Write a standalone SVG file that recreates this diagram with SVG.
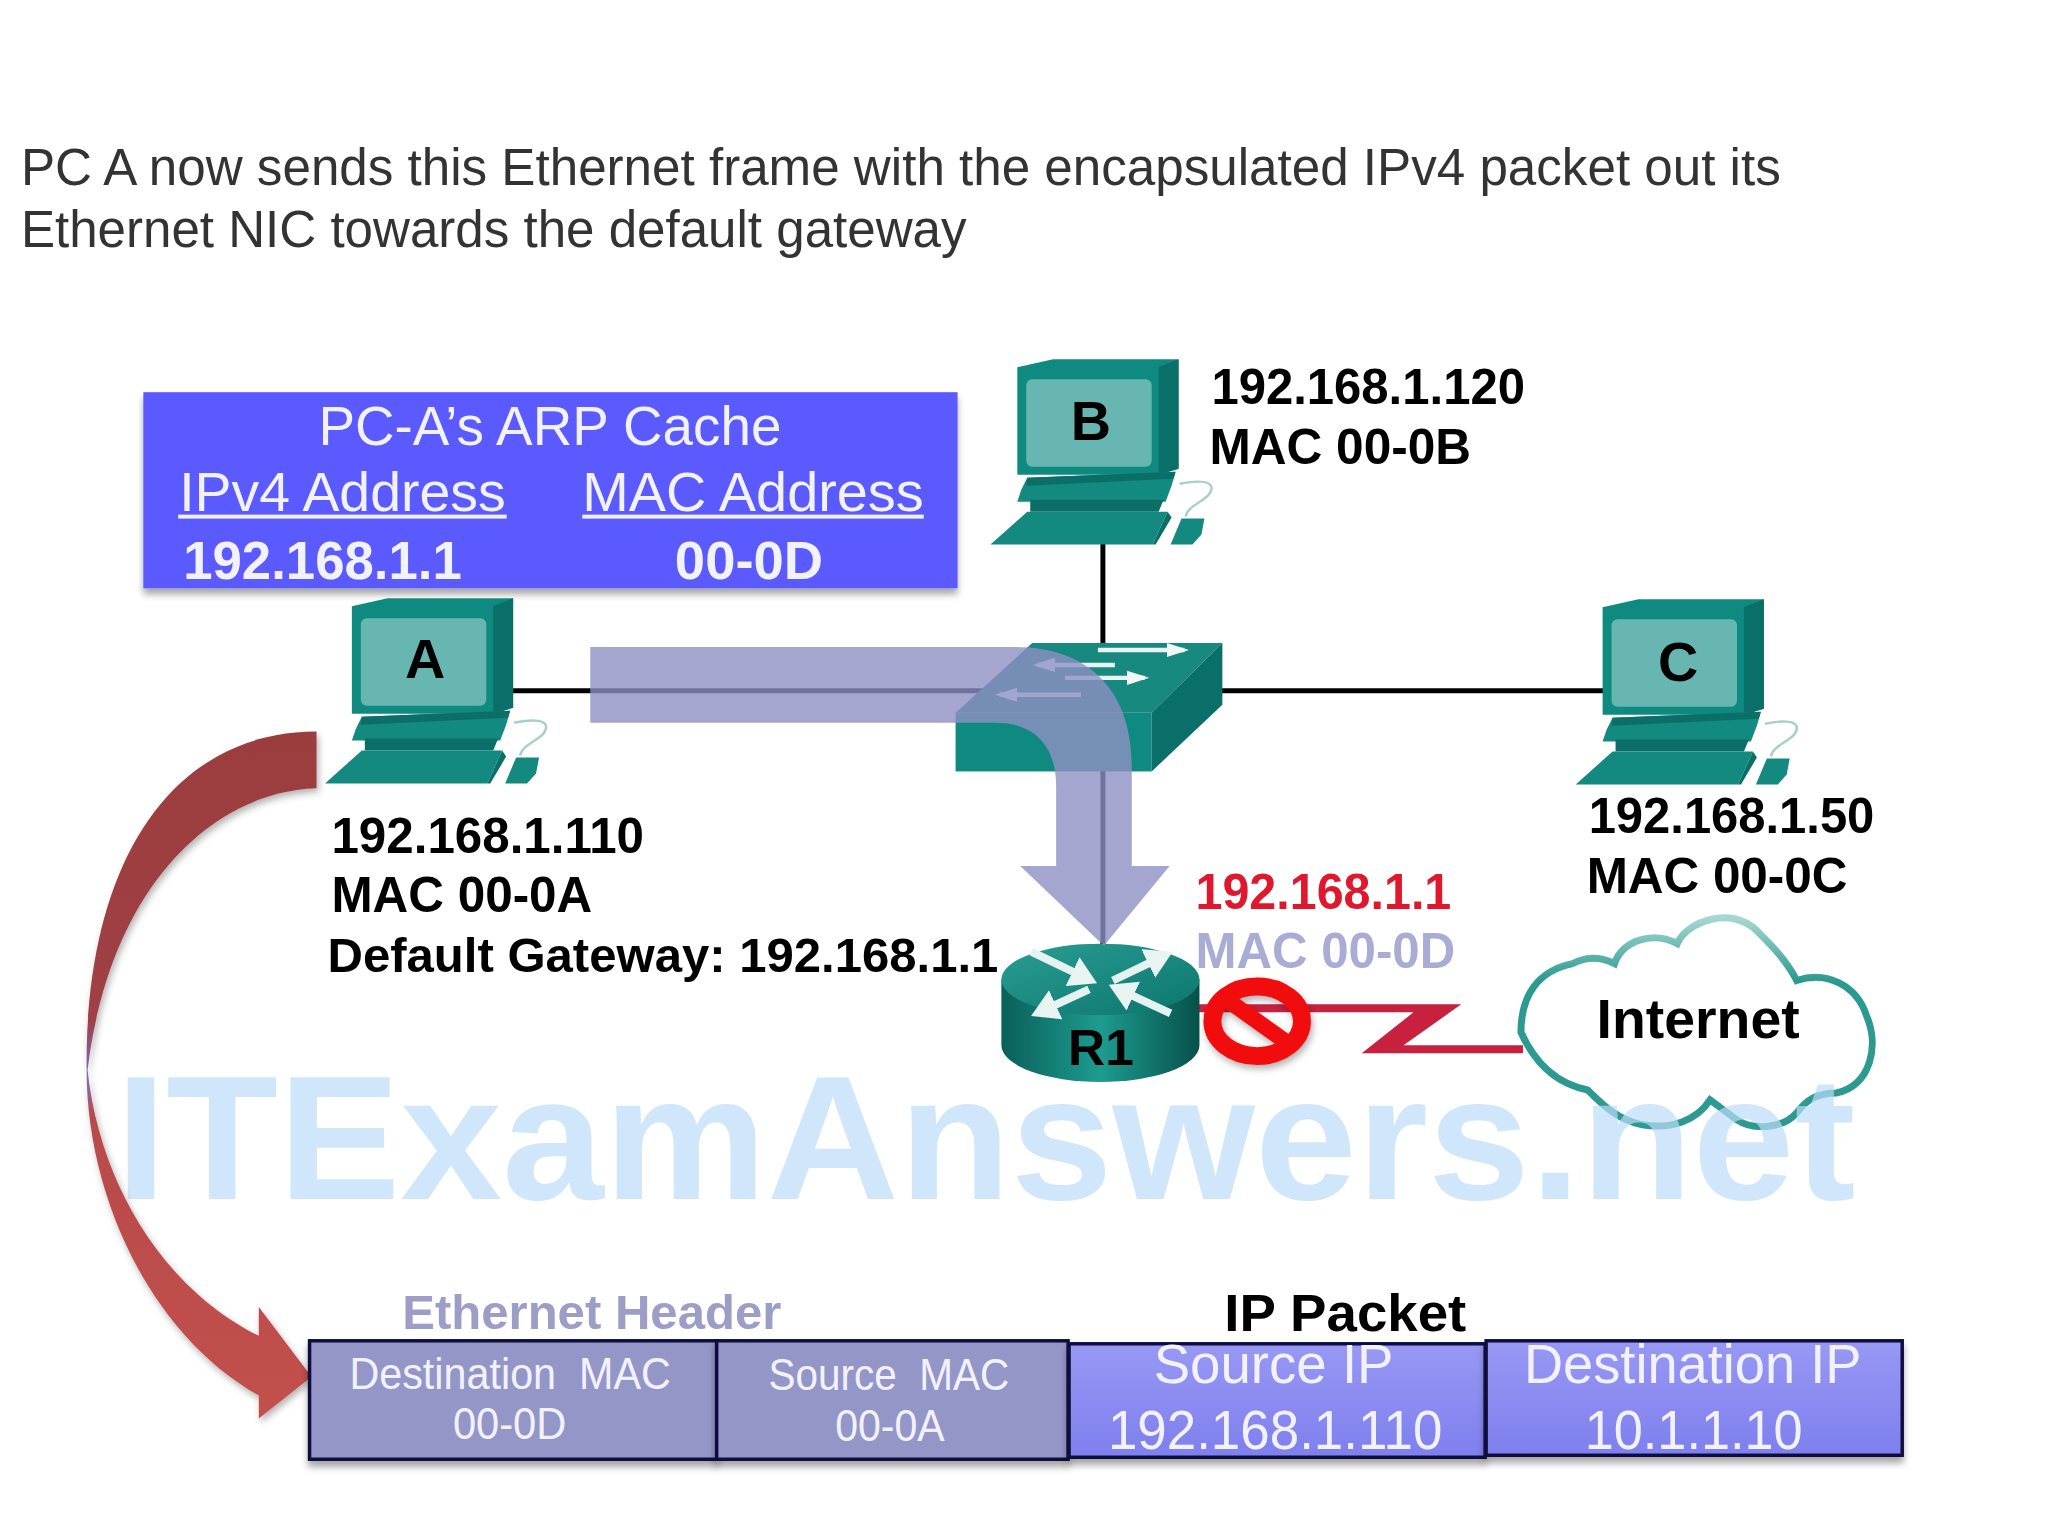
<svg xmlns="http://www.w3.org/2000/svg" xmlns:xlink="http://www.w3.org/1999/xlink" width="2048" height="1536" viewBox="0 0 2048 1536">
<style>
text{font-family:"Liberation Sans",Arial,sans-serif}
.title{font-size:52px;fill:#333}
.w{fill:#f2f2ff}
.b{font-weight:bold;fill:#000}
.lbl{font-size:50px}
.frm{stroke:#11113f;stroke-width:3.5}
.link{stroke:#000;stroke-width:5;fill:none}
.sw{stroke:#e8f4f3;stroke-width:4.500;fill:none;marker-end:url(#wa)}
.rt{stroke:#e4f2f0;stroke-width:8;fill:none;marker-end:url(#wa2)}
</style>
<defs>
<filter id="sh" x="-5%" y="-10%" width="110%" height="125%"><feDropShadow dx="0" dy="6" stdDeviation="4" flood-color="#000" flood-opacity=".35"/></filter>
<filter id="sh2" x="-30%" y="-30%" width="160%" height="160%"><feDropShadow dx="2" dy="4" stdDeviation="4" flood-color="#000" flood-opacity=".3"/></filter>
<marker id="wa" markerWidth="6" markerHeight="4" refX="4" refY="2" orient="auto"><path d="M0,.4L5,2L0,3.6Z" fill="#f0f8f7"/></marker>
<marker id="wa2" markerWidth="4" markerHeight="4" refX="2" refY="2" orient="auto"><path d="M0,0L3.4,2L0,4Z" fill="#e8f4f2"/></marker>
<linearGradient id="rb" x1="0" x2="1" y1="0" y2="0"><stop offset="0" stop-color="#0a5f59"/><stop offset=".5" stop-color="#1d9c90"/><stop offset="1" stop-color="#07504b"/></linearGradient>
<linearGradient id="rt" x1="0" x2="1" y1="0" y2="1"><stop offset="0" stop-color="#2a9e93"/><stop offset="1" stop-color="#0c756d"/></linearGradient>
<linearGradient id="ra" x1="0" x2="0" y1="0" y2="1"><stop offset="0" stop-color="#9b3e3e"/><stop offset=".42" stop-color="#a03f46"/><stop offset=".5" stop-color="#7d6cc0"/><stop offset=".56" stop-color="#b84a4c"/><stop offset="1" stop-color="#c2504c"/></linearGradient>
<linearGradient id="ip" x1="0" x2="0" y1="0" y2="1"><stop offset="0" stop-color="#9898f4"/><stop offset="1" stop-color="#7f7fee"/></linearGradient>
<linearGradient id="cl" x1="0" x2="0" y1="0" y2="1"><stop offset="0" stop-color="#a6d8d2"/><stop offset=".3" stop-color="#2d9a92"/><stop offset="1" stop-color="#2d9a92"/></linearGradient>
<g id="pc">
<polygon points="351,605 387,597 513,597 513,707 493,713 351,713" fill="#0f8a80"/>
<polygon points="493,605 513,597 513,707 493,713" fill="#0a6f68"/>
<rect x="360" y="617" width="126" height="88" rx="6" fill="#68b6b1"/>
<polygon points="361,716 510,710 506,724 500,740 351,740 355,728" fill="#128a80"/>
<polygon points="361,716 510,710 508,717 360,724" fill="#0b6f68"/>
<polygon points="364,738 498,738 493,750 364,750" fill="#0b6f68"/>
<polygon points="361,750 502,750 487,783 324,783" fill="#14897f"/>
<polygon points="502,750 506,756 490,783 487,783" fill="#0b6f68"/>
<path d="M520,755C522,742 548,738 546,725C544,718 530,719 514,722" fill="none" stroke="#a9cfca" stroke-width="2.5"/>
<polygon points="516,757 539,757 536,773 527,783 505,783" fill="#14897f"/>
</g>
</defs>
<rect width="2048" height="1536" fill="#fff"/>
<g id="diagram" transform="scale(.9954)">
<g id="title">
<text class="title" x="21" y="186" textLength="1768" lengthAdjust="spacingAndGlyphs">PC A now sends this Ethernet frame with the encapsulated IPv4 packet out its</text>
<text class="title" x="21" y="248" textLength="950" lengthAdjust="spacingAndGlyphs">Ethernet NIC towards the default gateway</text>
</g>

<g id="connectors">
<line class="link" x1="513" y1="694" x2="1040" y2="694"/>
<line class="link" x1="1226" y1="694" x2="1614" y2="694"/>
<line class="link" x1="1108" y1="543" x2="1108" y2="650"/>
<line class="link" x1="1108" y1="770" x2="1108" y2="950"/>
<polygon id="serial-link" points="1200,1009 1468,1009 1410,1050 1530,1050 1530,1058 1368,1058 1420,1017 1200,1017" fill="#c8213f"/>
</g>

<g id="arp-cache">
<rect x="144" y="394" width="818" height="197" fill="#5a5aff" filter="url(#sh)"/>
<text class="w" font-size="56" x="320" y="447" textLength="465" lengthAdjust="spacingAndGlyphs">PC-A’s ARP Cache</text>
<text class="w" font-size="56" x="180" y="513" textLength="328" lengthAdjust="spacingAndGlyphs">IPv4 Address</text>
<rect x="179" y="517" width="330" height="4" fill="#f2f2ff"/>
<text class="w" font-size="56" x="585" y="513" textLength="343" lengthAdjust="spacingAndGlyphs">MAC Address</text>
<rect x="585" y="517" width="343" height="4" fill="#f2f2ff"/>
<text class="w" font-weight="bold" font-size="54" x="184" y="582" textLength="280" lengthAdjust="spacingAndGlyphs">192.168.1.1</text>
<text class="w" font-weight="bold" font-size="54" x="678" y="582" textLength="149" lengthAdjust="spacingAndGlyphs">00-0D</text>
</g>

<g id="pc-a">
<use href="#pc" x="2.500" y="4"/>
<text class="b" font-size="56" x="427" y="681" text-anchor="middle">A</text>
<text class="b lbl" x="333" y="857" textLength="314" lengthAdjust="spacingAndGlyphs">192.168.1.110</text>
<text class="b lbl" x="333" y="916" textLength="262" lengthAdjust="spacingAndGlyphs">MAC 00-0A</text>
<text class="b" font-size="48" x="329" y="976" textLength="674" lengthAdjust="spacingAndGlyphs">Default Gateway: 192.168.1.1</text>
</g>

<g id="pc-b">
<use href="#pc" x="671" y="-236"/>
<text class="b" font-size="56" x="1096" y="442" text-anchor="middle">B</text>
<text class="b lbl" x="1217" y="406" textLength="315" lengthAdjust="spacingAndGlyphs">192.168.1.120</text>
<text class="b lbl" x="1215" y="466" textLength="263" lengthAdjust="spacingAndGlyphs">MAC 00-0B</text>
</g>

<g id="pc-c">
<use href="#pc" x="1259" y="5"/>
<text class="b" font-size="56" x="1686" y="684" text-anchor="middle">C</text>
<text class="b lbl" x="1596" y="837" textLength="287" lengthAdjust="spacingAndGlyphs">192.168.1.50</text>
<text class="b lbl" x="1594" y="897" textLength="262" lengthAdjust="spacingAndGlyphs">MAC 00-0C</text>
</g>

<g id="switch">
<polygon points="1037,646 1228,646 1157,716 960,716" fill="#17897f"/>
<rect x="960" y="716" width="197" height="59" fill="#0f8a80"/>
<polygon points="1228,646 1228,708 1157,775 1157,716" fill="#0a6f68"/>
<line class="sw" x1="1103" y1="653" x2="1190" y2="653"/>
<line class="sw" x1="1120" y1="668" x2="1042" y2="668"/>
<line class="sw" x1="1070" y1="681" x2="1150" y2="681"/>
<line class="sw" x1="1086" y1="698" x2="1004" y2="698"/>
</g>

<g id="router">
<path d="M1006,984V1050A99.500,37 0 0 0 1205,1050V984Z" fill="url(#rb)"/>
<ellipse cx="1105.500" cy="984" rx="99.500" ry="36" fill="url(#rt)"/>
<line class="rt" x1="1036" y1="956" x2="1092" y2="983"/>
<line class="rt" x1="1118" y1="985" x2="1168" y2="961"/>
<line class="rt" x1="1094" y1="994" x2="1046" y2="1016"/>
<line class="rt" x1="1176" y1="1018" x2="1124" y2="994"/>
<text class="b" font-size="50" x="1106" y="1070" text-anchor="middle" textLength="66" lengthAdjust="spacingAndGlyphs">R1</text>
</g>

<g id="router-interface">
<text font-weight="bold" font-size="50" fill="#e0182d" x="1201" y="913" textLength="257" lengthAdjust="spacingAndGlyphs">192.168.1.1</text>
<text font-weight="bold" font-size="50" fill="#a9acd4" x="1201" y="972" textLength="261" lengthAdjust="spacingAndGlyphs">MAC 00-0D</text>
</g>

<g id="blocked" filter="url(#sh2)">
<ellipse cx="1263" cy="1026" rx="45" ry="35" fill="none" stroke="#f10d0d" stroke-width="18"/>
<line x1="1228" y1="1001" x2="1298" y2="1051" stroke="#f10d0d" stroke-width="16"/>
</g>

<g id="internet">
<path d="M1528,1037C1528,1000 1545,975 1580,968C1595,960 1610,962 1622,968C1630,945 1660,935 1685,948C1695,925 1740,910 1765,935C1780,950 1795,965 1805,985C1835,975 1865,990 1875,1020C1888,1050 1880,1090 1845,1098C1825,1098 1815,1105 1805,1118C1790,1135 1760,1135 1745,1125C1735,1118 1725,1110 1718,1105C1705,1125 1680,1135 1650,1130C1625,1125 1610,1110 1595,1095C1570,1090 1545,1075 1528,1037Z" fill="#fff" stroke="url(#cl)" stroke-width="7"/>
<text class="b" font-size="56" x="1604" y="1043" textLength="204" lengthAdjust="spacingAndGlyphs">Internet</text>
</g>

<path id="flow-arrow" d="M593,650H1020C1090,650 1137,690 1137,770V870H1175L1109,950L1025,870H1061V790C1061,750 1040,726 1000,726H593Z" fill="#8f90c4" fill-opacity=".8"/>

<text id="watermark" font-weight="bold" font-size="178" fill="#bcdcf8" fill-opacity=".7" x="116" y="1205" textLength="1748" lengthAdjust="spacingAndGlyphs">ITExamAnswers.net</text>

<path id="capture-arrow" d="M318,735C170,735 85,870 87,1075C87,1200 150,1340 260,1402L260,1425L313,1383L260,1313L260,1342C165,1295 100,1190 88,1075C110,890 215,795 318,792Z" fill="url(#ra)" filter="url(#sh2)"/>

<g id="frame-ethernet-header">
<text font-weight="bold" font-size="48" fill="#9c9ec8" x="404" y="1335" textLength="381" lengthAdjust="spacingAndGlyphs">Ethernet Header</text>
<rect class="frm" x="311" y="1347" width="409" height="119" fill="#9596c8" filter="url(#sh)"/>
<rect class="frm" x="720" y="1347" width="353" height="119" fill="#9596c8" filter="url(#sh)"/>
<text class="w" font-size="44" x="351" y="1395" textLength="323" lengthAdjust="spacingAndGlyphs" xml:space="preserve">Destination  MAC</text>
<text class="w" font-size="44" x="455" y="1446" textLength="114" lengthAdjust="spacingAndGlyphs">00-0D</text>
<text class="w" font-size="44" x="772" y="1396" textLength="242" lengthAdjust="spacingAndGlyphs" xml:space="preserve">Source  MAC</text>
<text class="w" font-size="44" x="839" y="1448" textLength="110" lengthAdjust="spacingAndGlyphs">00-0A</text>
</g>

<g id="frame-ip-packet">
<text class="b" font-size="52" x="1230" y="1337" textLength="243" lengthAdjust="spacingAndGlyphs">IP Packet</text>
<rect class="frm" x="1074" y="1350" width="418" height="114" fill="url(#ip)" filter="url(#sh)"/>
<rect class="frm" x="1493" y="1347" width="418" height="115" fill="url(#ip)" filter="url(#sh)"/>
<text class="w" font-size="56" x="1159" y="1389" textLength="241" lengthAdjust="spacingAndGlyphs">Source IP</text>
<text class="w" font-size="56" x="1113" y="1456" textLength="336" lengthAdjust="spacingAndGlyphs">192.168.1.110</text>
<text class="w" font-size="56" x="1531" y="1389" textLength="339" lengthAdjust="spacingAndGlyphs">Destination IP</text>
<text class="w" font-size="56" x="1592" y="1456" textLength="219" lengthAdjust="spacingAndGlyphs">10.1.1.10</text>
</g>
</g>
</svg>
